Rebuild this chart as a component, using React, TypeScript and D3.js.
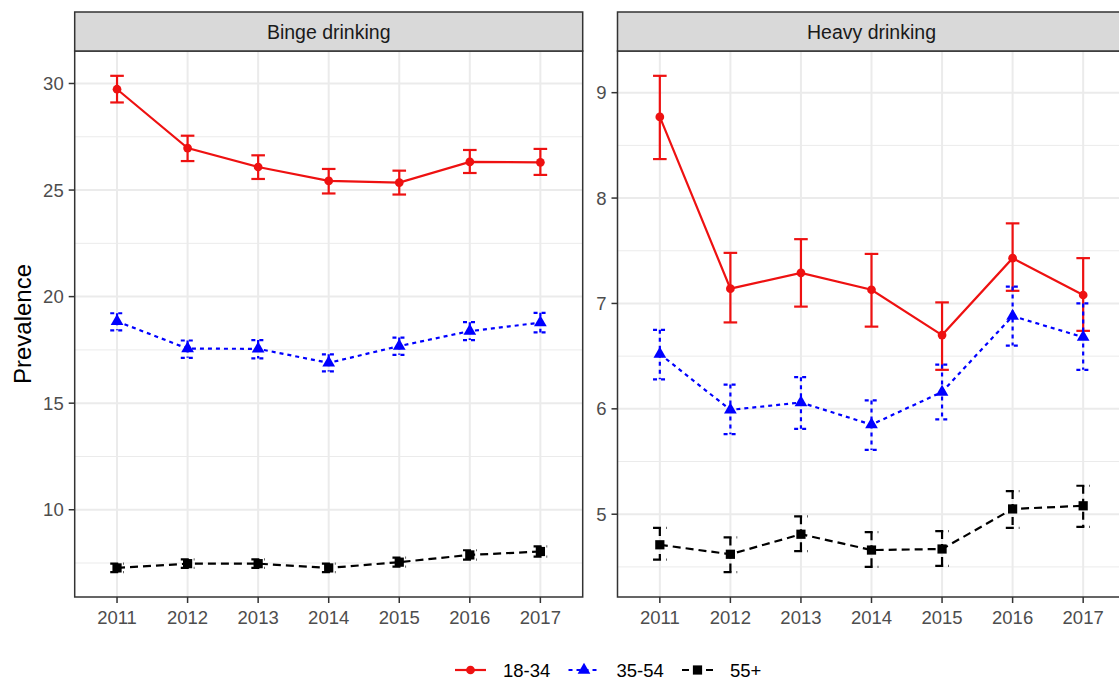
import React from "react";
import * as d3 from "d3";

const years = ["2011", "2012", "2013", "2014", "2015", "2016", "2017"];
const groups = ["18-34", "35-54", "55+"];
const panelTitles = ["Binge drinking", "Heavy drinking"];

// Binge drinking
const binge1834 = [29.73, 26.97, 26.08, 25.43, 25.35, 26.32, 26.3];
const binge1834Lo = [29.11, 26.36, 25.52, 24.84, 24.79, 25.8, 25.71];
const binge1834Hi = [30.36, 27.55, 26.63, 25.99, 25.91, 26.88, 26.93];
const binge3554 = [18.84, 17.56, 17.55, 16.89, 17.68, 18.38, 18.78];
const binge3554Lo = [18.42, 17.13, 17.1, 16.49, 17.27, 17.96, 18.32];
const binge3554Hi = [19.22, 17.94, 17.96, 17.29, 18.08, 18.8, 19.24];
const binge55 = [7.27, 7.47, 7.47, 7.27, 7.54, 7.88, 8.04];
const binge55Lo = [7.07, 7.27, 7.27, 7.07, 7.33, 7.66, 7.8];
const binge55Hi = [7.47, 7.67, 7.67, 7.47, 7.75, 8.1, 8.28];

// Heavy drinking
const heavy1834 = [8.77, 7.14, 7.29, 7.13, 6.7, 7.43, 7.08];
const heavy1834Lo = [8.37, 6.82, 6.97, 6.78, 6.37, 7.12, 6.74];
const heavy1834Hi = [9.16, 7.48, 7.61, 7.47, 7.01, 7.76, 7.43];
const heavy3554 = [6.52, 5.99, 6.06, 5.85, 6.16, 6.88, 6.68];
const heavy3554Lo = [6.28, 5.76, 5.81, 5.61, 5.9, 6.6, 6.37];
const heavy3554Hi = [6.75, 6.23, 6.3, 6.08, 6.42, 7.16, 7.0];
const heavy55 = [4.71, 4.62, 4.81, 4.66, 4.67, 5.05, 5.08];
const heavy55Lo = [4.57, 4.45, 4.65, 4.5, 4.51, 4.87, 4.88];
const heavy55Hi = [4.87, 4.78, 4.98, 4.83, 4.84, 5.22, 5.27];

const bingeTicks = [10, 15, 20, 25, 30];
const bingeMinor = [7.5, 12.5, 17.5, 22.5, 27.5];
const heavyTicks = [5, 6, 7, 8, 9];
const heavyMinor = [4.5, 5.5, 6.5, 7.5, 8.5];

const colors = ["#ee1111", "#0000ff", "#000000"];
const dashes = ["none", "4,4", "8,5"];
const symbols = [d3.symbolCircle, d3.symbolTriangle, d3.symbolSquare];
const symbolSizes = [60, 70, 85];

const font = "'Liberation Sans', Arial, sans-serif";
const W = 1119;
const H = 679;
const top = 51;
const bottom = 597;
const panelW = 508;
const panelX = [74.7, 617.5];

const panels = [
  {
    title: panelTitles[0],
    ticks: bingeTicks,
    minor: bingeMinor,
    series: [
      { mean: binge1834, lo: binge1834Lo, hi: binge1834Hi },
      { mean: binge3554, lo: binge3554Lo, hi: binge3554Hi },
      { mean: binge55, lo: binge55Lo, hi: binge55Hi },
    ],
  },
  {
    title: panelTitles[1],
    ticks: heavyTicks,
    minor: heavyMinor,
    series: [
      { mean: heavy1834, lo: heavy1834Lo, hi: heavy1834Hi },
      { mean: heavy3554, lo: heavy3554Lo, hi: heavy3554Hi },
      { mean: heavy55, lo: heavy55Lo, hi: heavy55Hi },
    ],
  },
];

function Panel({ p, x0 }: { p: any; x0: number }) {
  const x = d3.scalePoint<string>().domain(years).range([x0, x0 + panelW]).padding(0.6);
  const lo = d3.min(p.series.flatMap((s: any) => s.lo)) as number;
  const hi = d3.max(p.series.flatMap((s: any) => s.hi)) as number;
  const pad = (hi - lo) * 0.05;
  const y = d3.scaleLinear().domain([lo - pad, hi + pad]).range([bottom, top]);
  const line = d3
    .line<number>()
    .x((_, i) => x(years[i]) as number)
    .y((d) => y(d));
  const capW = 6.8;

  return (
    <g>
      <rect x={x0} y={top} width={panelW} height={bottom - top} fill="#fff" />
      {p.minor.map((v: number) => (
        <line key={"m" + v} x1={x0} x2={x0 + panelW} y1={y(v)} y2={y(v)} stroke="#ebebeb" strokeWidth={1} />
      ))}
      {p.ticks.map((v: number) => (
        <line key={"g" + v} x1={x0} x2={x0 + panelW} y1={y(v)} y2={y(v)} stroke="#ebebeb" strokeWidth={2} />
      ))}
      {years.map((yr) => (
        <line key={"v" + yr} x1={x(yr)} x2={x(yr)} y1={top} y2={bottom} stroke="#ebebeb" strokeWidth={2} />
      ))}

      {p.series.map((s: any, gi: number) => (
        <path
          key={"l" + gi}
          d={line(s.mean) as string}
          fill="none"
          stroke={colors[gi]}
          strokeWidth={2.2}
          strokeDasharray={dashes[gi]}
        />
      ))}
      {p.series.map((s: any, gi: number) =>
        years.map((yr, i) => {
          const cx = x(yr) as number;
          const props = {
            stroke: colors[gi],
            strokeWidth: 2.2,
            strokeDasharray: dashes[gi],
          };
          return (
            <g key={"e" + gi + yr}>
              <line x1={cx - capW} x2={cx + capW} y1={y(s.hi[i])} y2={y(s.hi[i])} {...props} />
              <line x1={cx} x2={cx} y1={y(s.hi[i])} y2={y(s.lo[i])} {...props} />
              <line x1={cx - capW} x2={cx + capW} y1={y(s.lo[i])} y2={y(s.lo[i])} {...props} />
            </g>
          );
        })
      )}
      {p.series.map((s: any, gi: number) =>
        s.mean.map((v: number, i: number) => (
          <path
            key={"p" + gi + i}
            d={d3.symbol(symbols[gi], symbolSizes[gi])() as string}
            transform={`translate(${x(years[i])},${y(v)})`}
            fill={colors[gi]}
          />
        ))
      )}

      <rect x={x0} y={top} width={panelW} height={bottom - top} fill="none" stroke="#333" strokeWidth={1.5} />
      <rect x={x0} y={12} width={panelW} height={top - 12} fill="#d9d9d9" stroke="#333" strokeWidth={1.5} />
      <text x={x0 + panelW / 2} y={38.5} textAnchor="middle" fontSize={19.5} fill="#1a1a1a">
        {p.title}
      </text>

      {p.ticks.map((v: number) => (
        <g key={"t" + v}>
          <line x1={x0 - 6} x2={x0} y1={y(v)} y2={y(v)} stroke="#333" strokeWidth={1.5} />
          <text x={x0 - 11} y={y(v) + 6.5} textAnchor="end" fontSize={18.5} fill="#4d4d4d">
            {v}
          </text>
        </g>
      ))}
      {years.map((yr) => (
        <g key={"xt" + yr}>
          <line x1={x(yr)} x2={x(yr)} y1={bottom} y2={bottom + 6} stroke="#333" strokeWidth={1.5} />
          <text x={x(yr)} y={624} textAnchor="middle" fontSize={18.5} fill="#4d4d4d">
            {yr}
          </text>
        </g>
      ))}
    </g>
  );
}

export default function App() {
  const legendX0 = 455;
  const legendStep = 113.5;
  const legendY = 670;
  return (
    <div style={{ position: "absolute", left: 0, top: 0 }}>
      <svg width={W} height={H} style={{ display: "block", fontFamily: font }}>
        <rect width={W} height={H} fill="#fff" />
        {panels.map((p, i) => (
          <Panel key={p.title} p={p} x0={panelX[i]} />
        ))}
        <text
          transform={`translate(30.5,${(top + bottom) / 2}) rotate(-90)`}
          textAnchor="middle"
          fontSize={24}
          fill="#000"
        >
          Prevalence
        </text>
        {groups.map((g, gi) => {
          const lx = legendX0 + gi * legendStep;
          return (
            <g key={g}>
              <line
                x1={lx}
                x2={lx + 31}
                y1={legendY}
                y2={legendY}
                stroke={colors[gi]}
                strokeWidth={2.2}
                strokeDasharray={dashes[gi] === "none" ? "none" : gi === 1 ? "4,4" : "7,5"}
              />
              <path
                d={d3.symbol(symbols[gi], symbolSizes[gi])() as string}
                transform={`translate(${lx + 15.5},${legendY})`}
                fill={colors[gi]}
              />
              <text x={lx + 48} y={legendY + 6.5} fontSize={18.5} fill="#000">
                {g}
              </text>
            </g>
          );
        })}
      </svg>
    </div>
  );
}
